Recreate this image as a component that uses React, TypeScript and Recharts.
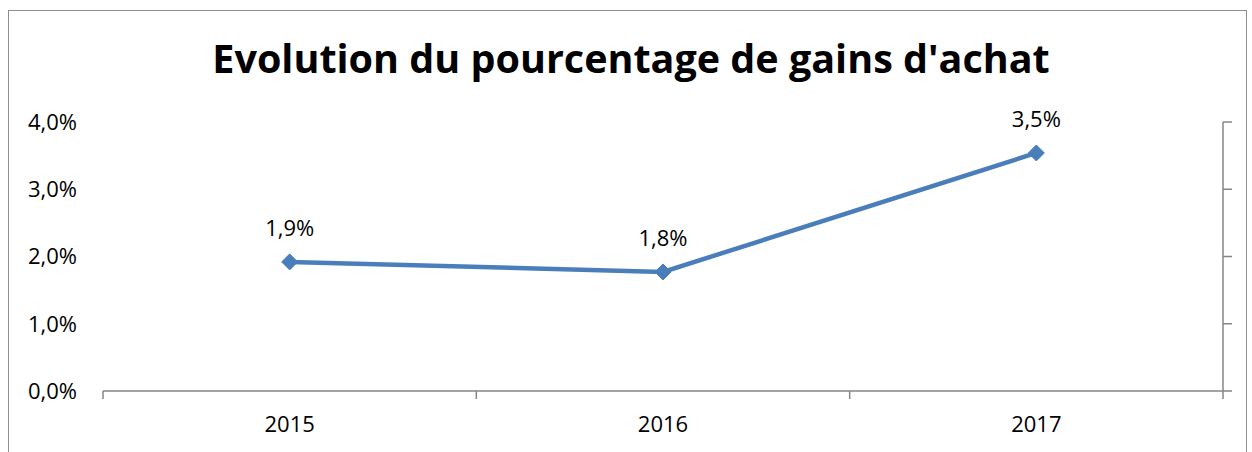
import React from 'react';
import { LineChart, Line, XAxis, YAxis, LabelList } from 'recharts';

const years = ['2015', '2016', '2017'];
const gains = [0.0192, 0.0177, 0.0354];
const yTicks = [0, 0.01, 0.02, 0.03, 0.04];

const data = years.map((year, i) => ({ year, gain: gains[i] }));

const FONT = '"Open Sans", sans-serif';
const AXIS_GREY = '#868686';
const BLUE = '#4a7ebb';
const LABEL_GAP = 25;
const TICK_LEN = 8;

const pct = (v: number) => (v * 100).toFixed(1).replace('.', ',') + '%';
const NoLabel = () => <g />;

// Excel-style category axis: tick marks sit on the band edges, labels in the middle
const YearTick = (props: any) => {
  const { x, y, payload, index, visibleTicksCount } = props;
  const half = Number(payload?.offset) || 0;
  const axisY = y - LABEL_GAP;
  const tickStyle = { stroke: AXIS_GREY, strokeWidth: 1.5 };
  return (
    <g>
      {half > 0 && <line x1={x - half} x2={x - half} y1={axisY} y2={axisY + TICK_LEN} {...tickStyle} />}
      {half > 0 && index === visibleTicksCount - 1 && (
        <line x1={x + half} x2={x + half} y1={axisY} y2={axisY + TICK_LEN} {...tickStyle} />
      )}
      <text x={x} y={y} dy="0.71em" textAnchor="middle" fill="#000" fontSize={22} fontFamily={FONT}>
        {payload.value}
      </text>
    </g>
  );
};

const Diamond = (props: any) => {
  const { cx, cy } = props;
  if (cx == null || cy == null) return null;
  const r = 8;
  return (
    <path
      d={`M${cx},${cy - r} L${cx + r},${cy} L${cx},${cy + r} L${cx - r},${cy} Z`}
      fill={BLUE}
      stroke={BLUE}
      strokeWidth={1}
    />
  );
};

export default function App() {
  return (
    <div style={{ position: 'absolute', left: 0, top: 0, width: 1252, height: 452, background: '#fff', overflow: 'hidden' }}>
      <div
        style={{
          position: 'absolute',
          left: 8,
          top: 10,
          width: 1239,
          height: 460,
          border: '1.5px solid #8e8e8e',
          boxSizing: 'border-box',
        }}
      />
      <div
        style={{
          position: 'absolute',
          left: 0,
          width: 1262,
          top: 30,
          textAlign: 'center',
          fontFamily: FONT,
          fontWeight: 700,
          fontSize: 39.5,
          lineHeight: '56px',
          color: '#000',
        }}
      >
        Evolution du pourcentage de gains d'achat
      </div>
      <div style={{ position: 'absolute', left: 0, top: 0 }}>
        <LineChart width={1252} height={452} data={data} margin={{ top: 122, right: 0, bottom: 0, left: 0 }}>
          <XAxis
            xAxisId="year"
            dataKey="year"
            scale="band"
            height={61}
            interval={0}
            axisLine={{ stroke: AXIS_GREY, strokeWidth: 1.5 }}
            tickLine={false}
            tickSize={0}
            tickMargin={LABEL_GAP}
            tick={<YearTick />}
          />
          <YAxis
            yAxisId="left"
            domain={[0, 0.04]}
            ticks={yTicks}
            interval={0}
            width={103}
            axisLine={false}
            tickLine={false}
            tickSize={6}
            tickMargin={20}
            tickFormatter={pct}
            tick={{ fill: '#000', fontSize: 22, fontFamily: FONT }}
          />
          <YAxis
            yAxisId="right"
            orientation="right"
            domain={[0, 0.04]}
            ticks={yTicks}
            interval={0}
            width={29}
            tickSize={9}
            tick={NoLabel}
            axisLine={{ stroke: AXIS_GREY, strokeWidth: 1.5 }}
            tickLine={{ stroke: AXIS_GREY, strokeWidth: 1.5 }}
            allowDataOverflow
          />
          <Line
            xAxisId="year"
            yAxisId="left"
            dataKey="gain"
            stroke={BLUE}
            strokeWidth={4.5}
            dot={<Diamond />}
            activeDot={false}
            isAnimationActive={false}
          >
            <LabelList
              dataKey="gain"
              position="top"
              offset={26}
              formatter={(v: any) => pct(Number(v))}
              style={{ fill: '#000', fontSize: 22, fontFamily: FONT }}
            />
          </Line>
        </LineChart>
      </div>
    </div>
  );
}
